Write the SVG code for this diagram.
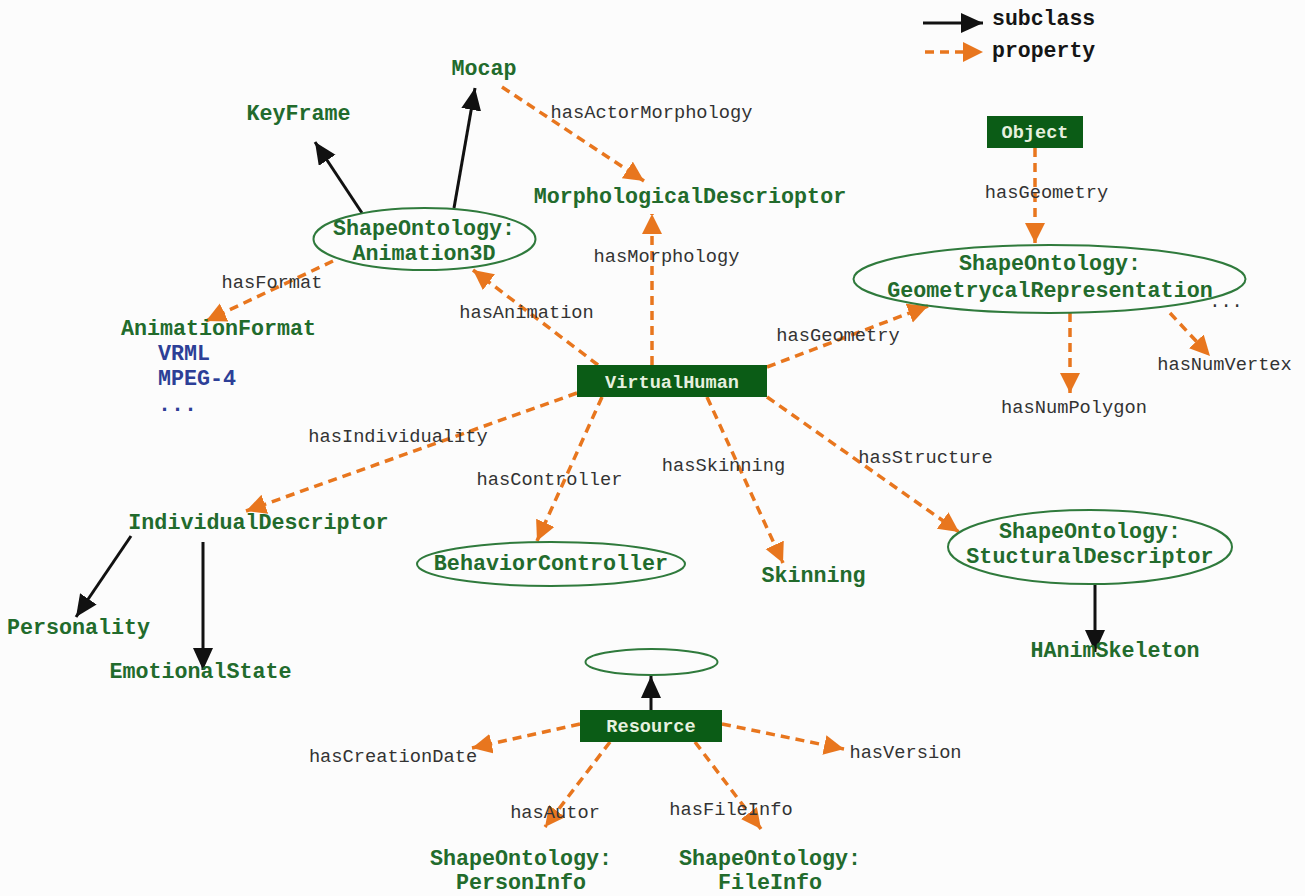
<svg xmlns="http://www.w3.org/2000/svg" width="1305" height="896" viewBox="0 0 1305 896">
<defs>
<marker id="ab" markerUnits="userSpaceOnUse" markerWidth="24" markerHeight="22" refX="22" refY="10" orient="auto"><path d="M0,0 L22,10 L0,20 z" fill="#111"/></marker>
<marker id="ao" markerUnits="userSpaceOnUse" markerWidth="22" markerHeight="22" refX="20" refY="10" orient="auto"><path d="M0,0 L20,10 L0,20 z" fill="#e8761e"/></marker>
<style>
.sub{stroke:#111;stroke-width:3;fill:none;marker-end:url(#ab)}
.prop{stroke:#e8761e;stroke-width:3.5;stroke-dasharray:9 6;fill:none;marker-end:url(#ao)}
.n{font-family:"Liberation Mono","Courier New",monospace;font-weight:bold;font-size:21.7px;fill:#226b2c;text-anchor:middle}
.v{font-family:"Liberation Mono","Courier New",monospace;font-weight:bold;font-size:21.7px;fill:#2d3f97}
.l{font-family:"Liberation Mono","Courier New",monospace;font-size:18.7px;fill:#333;text-anchor:middle}
.bt{font-family:"Liberation Mono","Courier New",monospace;font-weight:bold;font-size:18.6px;fill:#e6f0df;text-anchor:middle}
.box{fill:#0b5c16}
.el{fill:none;stroke:#2f7a3c;stroke-width:2}
.lg{font-family:"Liberation Mono","Courier New",monospace;font-weight:bold;font-size:21.5px;fill:#151515}
</style>
</defs>
<rect width="1305" height="896" fill="#fcfcfc"/>
<g id="legend">
<line x1="923" y1="23" x2="983" y2="23" class="sub"/>
<text x="992" y="25" class="lg">subclass</text>
<line x1="925" y1="52" x2="983" y2="52" class="prop"/>
<text x="992" y="57" class="lg">property</text>
</g>
<g id="connectors">
<line x1="362" y1="213" x2="315" y2="142" class="sub"/>
<line x1="454" y1="208" x2="475" y2="88" class="sub"/>
<line x1="502" y1="87" x2="644" y2="181" class="prop"/>
<line x1="652" y1="365" x2="652" y2="214" class="prop"/>
<line x1="598" y1="365" x2="473" y2="270" class="prop"/>
<line x1="333" y1="261" x2="206" y2="321" class="prop"/>
<line x1="767" y1="367" x2="928" y2="306" class="prop"/>
<line x1="1035" y1="148" x2="1035" y2="243" class="prop"/>
<line x1="1070" y1="313" x2="1070" y2="393" class="prop"/>
<line x1="1170" y1="313" x2="1210" y2="356" class="prop"/>
<line x1="577" y1="393" x2="246" y2="511" class="prop"/>
<line x1="602" y1="397" x2="537" y2="541" class="prop"/>
<line x1="707" y1="397" x2="783" y2="563" class="prop"/>
<line x1="767" y1="397" x2="959" y2="532" class="prop"/>
<line x1="131" y1="536" x2="76" y2="617" class="sub"/>
<line x1="203" y1="542" x2="203" y2="670" class="sub"/>
<line x1="1095" y1="584" x2="1095" y2="652" class="sub"/>
<line x1="651" y1="710" x2="651" y2="676" class="sub"/>
<line x1="580" y1="724" x2="472" y2="748" class="prop"/>
<line x1="722" y1="724" x2="844" y2="749" class="prop"/>
<line x1="610" y1="742" x2="545" y2="827" class="prop"/>
<line x1="695" y1="742" x2="761" y2="829" class="prop"/>
</g>
<g id="labels">
<text x="651.5" y="118" class="l">hasActorMorphology</text>
<text x="666.5" y="262" class="l">hasMorphology</text>
<text x="272" y="288" class="l">hasFormat</text>
<text x="526.5" y="318" class="l">hasAnimation</text>
<text x="1046.5" y="198" class="l">hasGeometry</text>
<text x="838" y="341" class="l">hasGeometry</text>
<text x="1074" y="413" class="l">hasNumPolygon</text>
<text x="1224.5" y="370" class="l">hasNumVertex</text>
<text x="1226" y="307" class="l">...</text>
<text x="398" y="442" class="l">hasIndividuality</text>
<text x="549.5" y="485" class="l">hasController</text>
<text x="723.5" y="471" class="l">hasSkinning</text>
<text x="925.5" y="463" class="l">hasStructure</text>
<text x="393" y="762" class="l">hasCreationDate</text>
<text x="905.5" y="758" class="l">hasVersion</text>
<text x="555" y="818" class="l">hasAutor</text>
<text x="731" y="815" class="l">hasFileInfo</text>
</g>
<g id="Mocap"><text x="484" y="75" class="n">Mocap</text></g>
<g id="KeyFrame"><text x="298.5" y="120" class="n">KeyFrame</text></g>
<g id="MorphologicalDescrioptor"><text x="690" y="203" class="n">MorphologicalDescrioptor</text></g>
<g id="Animation3D">
<ellipse cx="424.5" cy="239" rx="111" ry="31" class="el"/>
<text x="424" y="235" class="n">ShapeOntology:</text>
<text x="424" y="260" class="n">Animation3D</text>
</g>
<g id="AnimationFormat">
<text x="218.5" y="335" class="n">AnimationFormat</text>
<text x="158" y="360" class="v">VRML</text>
<text x="158" y="385" class="v">MPEG-4</text>
<text x="158" y="411" class="v">...</text>
</g>
<g id="Object">
<rect x="987" y="116" width="96" height="32" class="box"/>
<text x="1035" y="138" class="bt">Object</text>
</g>
<g id="GeometrycalRepresentation">
<ellipse cx="1049.5" cy="279" rx="196" ry="34" class="el"/>
<text x="1050" y="270" class="n">ShapeOntology:</text>
<text x="1050" y="297" class="n">GeometrycalRepresentation</text>
</g>
<g id="VirtualHuman">
<rect x="577" y="365" width="190" height="32" class="box"/>
<text x="672" y="388" class="bt">VirtualHuman</text>
</g>
<g id="IndividualDescriptor"><text x="258.5" y="529" class="n">IndividualDescriptor</text></g>
<g id="Personality"><text x="78.5" y="634" class="n">Personality</text></g>
<g id="EmotionalState"><text x="200.5" y="678" class="n">EmotionalState</text></g>
<g id="BehaviorController">
<ellipse cx="551" cy="564" rx="134" ry="22" class="el"/>
<text x="551" y="570" class="n">BehaviorController</text>
</g>
<g id="Skinning"><text x="813.5" y="582" class="n">Skinning</text></g>
<g id="StucturalDescriptor">
<ellipse cx="1090" cy="547" rx="142" ry="37" class="el"/>
<text x="1090" y="538" class="n">ShapeOntology:</text>
<text x="1090" y="563" class="n">StucturalDescriptor</text>
</g>
<g id="HAnimSkeleton"><text x="1115" y="657" class="n">HAnimSkeleton</text></g>
<g id="ResourceParent"><ellipse cx="651.5" cy="662" rx="66" ry="13" class="el"/></g>
<g id="Resource">
<rect x="580" y="710" width="142" height="32" class="box"/>
<text x="651" y="732" class="bt">Resource</text>
</g>
<g id="PersonInfo">
<text x="521" y="865" class="n">ShapeOntology:</text>
<text x="521" y="889" class="n">PersonInfo</text>
</g>
<g id="FileInfo">
<text x="770" y="865" class="n">ShapeOntology:</text>
<text x="770" y="889" class="n">FileInfo</text>
</g>
</svg>
